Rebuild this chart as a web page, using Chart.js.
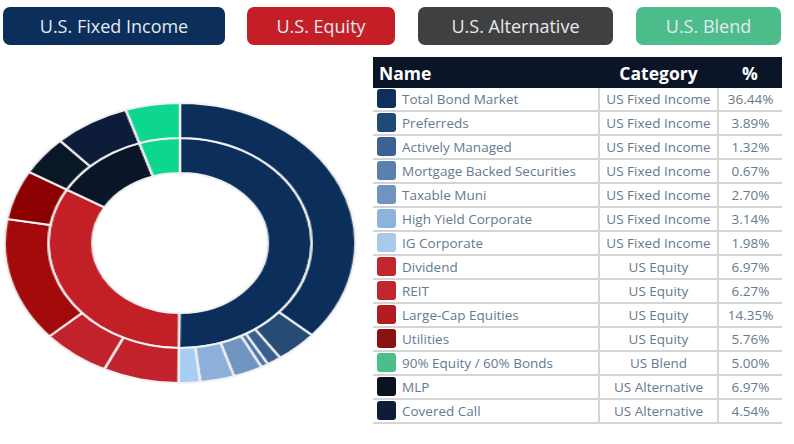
<!DOCTYPE html>
<html>
<head>
<meta charset="utf-8">
<script src="https://cdn.jsdelivr.net/npm/chart.js@4.4.0/dist/chart.umd.min.js"></script>
<style>
  html, body { margin: 0; padding: 0; background: #fff; }
  body { width: 794px; height: 444px; position: relative; overflow: hidden; font-family: 'Open Sans', sans-serif; }
  .btn { position: absolute; top: 7px; height: 38px; border-radius: 7px; color: #e3e9f0;
         font-family: 'Open Sans', sans-serif; font-size: 18px; line-height: 38px; text-align: center; }
  #ringWrap { position: absolute; left: 39px; top: 102px; width: 282px; height: 282px;
              transform: scaleX(1.253); transform-origin: 50% 50%; }
  table { position: absolute; left: 373px; top: 57px; width: 409px; border-collapse: collapse; }
  th { background: #0a1628; color: #fff; font-family: 'Open Sans', sans-serif; font-weight: 700;
       font-size: 17.5px; height: 31px; padding: 0; }
  td { height: 22px; padding: 0; font-size: 13.5px; color: #66798d; border-bottom: 2px solid #d4d4d4; white-space: nowrap; }
  td.c { text-align: center; border-left: 2px solid #d4d4d4; }
  .sw { display: inline-block; width: 19px; height: 19px; border-radius: 3px; vertical-align: middle; margin: -2px 6px 0 4px; }
</style>
</head>
<body>
<div id="buttons"></div>
<div id="ringWrap"><canvas id="ring"></canvas></div>
<table id="tbl">
  <thead><tr>
    <th style="text-align:left;padding-left:6px;width:220px;">Name</th>
    <th style="width:119px;">Category</th>
    <th>%</th>
  </tr></thead>
  <tbody></tbody>
</table>
<script>
// ===== Data =====
const names = ['Total Bond Market', 'Preferreds', 'Actively Managed', 'Mortgage Backed Securities',
  'Taxable Muni', 'High Yield Corporate', 'IG Corporate', 'Dividend', 'REIT', 'Large-Cap Equities',
  'Utilities', '90% Equity / 60% Bonds', 'MLP', 'Covered Call'];
const categories = ['US Fixed Income', 'US Fixed Income', 'US Fixed Income', 'US Fixed Income',
  'US Fixed Income', 'US Fixed Income', 'US Fixed Income', 'US Equity', 'US Equity', 'US Equity',
  'US Equity', 'US Blend', 'US Alternative', 'US Alternative'];
const pcts = [36.44, 3.89, 1.32, 0.67, 2.70, 3.14, 1.98, 6.97, 6.27, 14.35, 5.76, 5.00, 6.97, 4.54];
const swatchColors = ['#0e2f5a', '#1f4a78', '#3a6394', '#5b80b0', '#7094c0', '#8db2dc', '#a9c9ec',
  '#c0272d', '#c0272d', '#b01c22', '#8b1010', '#4cbf88', '#0a1220', '#0d1c38'];

// order of slices round the outer ring (clockwise from 12 o'clock)
const outerOrder = [0, 1, 2, 3, 4, 5, 6, 7, 8, 9, 10, 13, 12, 11];
const outerColors = ['#0b2f5a', '#264b75', '#3a5f8f', '#4f75a6', '#6f95c0', '#8db0da', '#a8cdf2',
  '#c1222b', '#c1222b', '#a30a0c', '#8b0000', '#0a1727', '#0d1c38', '#0dd68f'];

// inner ring groups
const groups = ['US Fixed Income', 'US Equity', 'US Alternative', 'US Blend'];
const groupColors = ['#0b2f5a', '#c21f26', '#0a1628', '#0dd68f'];

// buttons at the top
const buttonLabels = ['U.S. Fixed Income', 'U.S. Equity', 'U.S. Alternative', 'U.S. Blend'];
const buttonColors = ['#0b2f5a', '#c41f27', '#404040', '#4cbd8a'];
const buttonBox = [[3, 222], [247, 148], [418, 195], [636, 145]];

// ===== Buttons =====
document.getElementById('buttons').innerHTML = buttonLabels.map((b, i) =>
  `<div class="btn" style="left:${buttonBox[i][0]}px;width:${buttonBox[i][1]}px;background:${buttonColors[i]};">${b}</div>`
).join('');

// ===== Table =====
document.querySelector('#tbl tbody').innerHTML = names.map((n, i) => `
  <tr>
    <td><span class="sw" style="background:${swatchColors[i]}"></span>${n}</td>
    <td class="c">${categories[i]}</td>
    <td class="c">${pcts[i].toFixed(2)}%</td>
  </tr>`).join('');

// ===== Doughnut =====
const groupTotals = groups.map(g => pcts.reduce((s, v, i) => s + (categories[i] === g ? v : 0), 0));

new Chart(document.getElementById('ring'), {
  type: 'doughnut',
  data: {
    labels: outerOrder.map(i => names[i]),
    datasets: [
      {
        data: outerOrder.map(i => pcts[i]),
        backgroundColor: outerColors,
        borderColor: '#f2f2f2',
        borderWidth: 2,
      },
      {
        data: groupTotals,
        backgroundColor: groupColors,
        borderColor: '#f2f2f2',
        borderWidth: 2,
      }
    ]
  },
  options: {
    responsive: true,
    maintainAspectRatio: false,
    devicePixelRatio: 1,
    animation: false,
    cutout: '50%',
    layout: { padding: 0 },
    plugins: { legend: { display: false }, tooltip: { enabled: false } }
  }
});
</script>
</body>
</html>
